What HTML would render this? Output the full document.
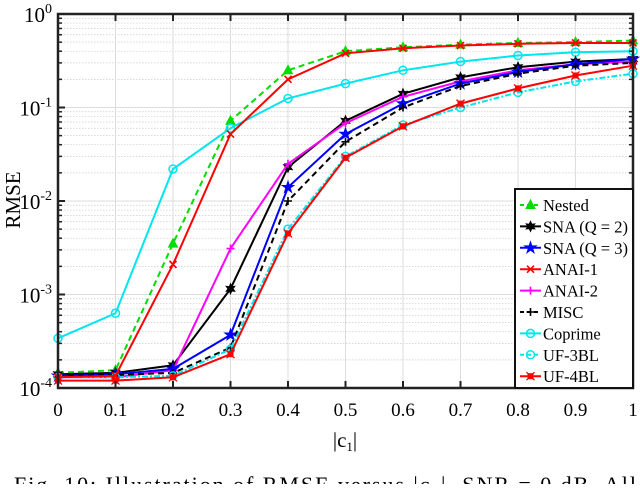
<!DOCTYPE html>
<html><head><meta charset="utf-8"><style>
body{margin:0;background:#fff;width:640px;height:484px;overflow:hidden}
svg{font-family:"Liberation Serif",serif}
</style></head><body>
<svg id="c" width="640" height="484"></svg>
<script>
const xs=[0,0.1,0.2,0.3,0.4,0.5,0.6,0.7,0.8,0.9,1];
const nested=[1.45e-4,1.55e-4,3.5e-3,0.072,0.25,0.40,0.44,0.47,0.49,0.50,0.52];
const sna2=[1.4e-4,1.45e-4,1.75e-4,1.15e-3,0.023,0.072,0.14,0.21,0.27,0.31,0.33];
const sna3=[1.35e-4,1.4e-4,1.6e-4,3.7e-4,0.014,0.052,0.11,0.18,0.24,0.29,0.33];
const anai1=[1.3e-4,1.35e-4,2.1e-3,0.052,0.20,0.38,0.43,0.46,0.48,0.49,0.49];
const anai2=[1.3e-4,1.3e-4,1.55e-4,3.1e-3,0.025,0.068,0.13,0.19,0.25,0.29,0.31];
const misc=[1.35e-4,1.38e-4,1.45e-4,2.7e-4,0.010,0.043,0.10,0.17,0.23,0.28,0.30];
const coprime=[3.4e-4,6.3e-4,0.022,0.060,0.125,0.18,0.25,0.31,0.36,0.39,0.40];
const uf3=[1.3e-4,1.3e-4,1.35e-4,2.6e-4,5.0e-3,0.030,0.065,0.10,0.145,0.19,0.23];
const uf4=[1.2e-4,1.2e-4,1.3e-4,2.3e-4,4.5e-3,0.029,0.063,0.11,0.16,0.22,0.28];
const xTicks=["0","0.1","0.2","0.3","0.4","0.5","0.6","0.7","0.8","0.9","1"];
const yExps=[0,-1,-2,-3,-4];
const L=58,R=633,T=14,B=388;
const X=v=>L+v*(R-L);
const Y=v=>T+(-Math.log10(v))/4*(B-T);
const svg=document.getElementById('c');
const NS='http://www.w3.org/2000/svg';
function mk(t,a,p){const e=document.createElementNS(NS,t);for(const k in a)e.setAttribute(k,a[k]);(p||svg).appendChild(e);return e;}
for(let d=0;d<4;d++){for(let m=2;m<10;m++){const y=Y(Math.pow(10,-4+d)*m);const g=mk('line',{x1:L,x2:R,y1:y,y2:y,stroke:'#ccc','stroke-width':0.7,'stroke-dasharray':'1.5,1.5'});}}
yExps.forEach(e=>{const y=Y(Math.pow(10,e));const g=mk('line',{x1:L,x2:R,y1:y,y2:y,stroke:'#ddd','stroke-width':1});});
xs.forEach(v=>{const g=mk('line',{x1:X(v),x2:X(v),y1:T,y2:B,stroke:'#ddd','stroke-width':1});});
function marker(t,x,y,c,g){
 if(t==='tri')mk('path',{d:`M${x},${y-5}L${x+4.5},${y+3.5}L${x-4.5},${y+3.5}Z`,fill:c,stroke:c},g);
 else if(t==='circ')mk('circle',{cx:x,cy:y,r:4,fill:'none',stroke:c,'stroke-width':1.5},g);
 else if(t==='x')mk('path',{d:`M${x-3.5},${y-3.5}L${x+3.5},${y+3.5}M${x+3.5},${y-3.5}L${x-3.5},${y+3.5}`,stroke:c,'stroke-width':1.6},g);
 else if(t==='plus')mk('path',{d:`M${x-4},${y}H${x+4}M${x},${y-4}V${y+4}`,stroke:c,'stroke-width':1.6},g);
 else if(t==='star'){let d='';for(let i=0;i<10;i++){const r=i%2?2.3:6,a=-Math.PI/2+i*Math.PI/5;d+=(i?'L':'M')+(x+r*Math.cos(a)).toFixed(1)+','+(y+r*Math.sin(a)).toFixed(1);}mk('path',{d:d+'Z',fill:c,stroke:c},g);}
 else if(t==='hex'){let d='';for(let i=0;i<12;i++){const r=i%2?2.5:5,a=-Math.PI/2+i*Math.PI/6;d+=(i?'L':'M')+(x+r*Math.cos(a)).toFixed(1)+','+(y+r*Math.sin(a)).toFixed(1);}mk('path',{d:d+'Z',fill:c,stroke:c},g);}
 else if(t==='sq'){mk('rect',{x:x-3,y:y-3,width:6,height:6,fill:c},g);mk('path',{d:`M${x-4},${y-4}L${x+4},${y+4}M${x+4},${y-4}L${x-4},${y+4}`,stroke:c,'stroke-width':1.3},g);}
}
const series=[
 ['nested',nested,'#00dd00','6,4','tri','Nested'],
 ['coprime',coprime,'#00e5ee',null,'circ','Coprime'],
 ['sna-q2',sna2,'#000',null,'hex','SNA (Q = 2)'],
 ['anai-2',anai2,'#ff00ff',null,'plus','ANAI-2'],
 ['sna-q3',sna3,'#0000ff',null,'star','SNA (Q = 3)'],
 ['misc',misc,'#000','6,4','plus','MISC'],
 ['uf-3bl',uf3,'#00e5ee','6,2,2,2','circ','UF-3BL'],
 ['anai-1',anai1,'#ff0000',null,'x','ANAI-1'],
 ['uf-4bl',uf4,'#ff0000',null,'sq','UF-4BL'],
];
series.forEach(s=>{
 const g=mk('g',{});
 const pts=xs.map((v,i)=>X(v).toFixed(1)+','+Y(s[1][i]).toFixed(1)).join(' ');
 const a={points:pts,fill:'none',stroke:s[2],'stroke-width':2};if(s[3])a['stroke-dasharray']=s[3];
 mk('polyline',a,g);
 xs.forEach((v,i)=>marker(s[4],X(v),Y(s[1][i]),s[2],g));
});
const bx=mk('rect',{x:L,y:T,width:R-L,height:B-T,fill:'none',stroke:'#222','stroke-width':2.5});

xs.forEach((v,i)=>{
 mk('line',{x1:X(v),x2:X(v),y1:B,y2:B-7,stroke:'#222','stroke-width':2});
 mk('line',{x1:X(v),x2:X(v),y1:T,y2:T+7,stroke:'#222','stroke-width':2});
 const t=mk('text',{x:X(v),y:B+28,'text-anchor':'middle','font-size':19});t.textContent=xTicks[i];
 
});
for(let d=0;d<4;d++)for(let m=2;m<10;m++){const y=Y(Math.pow(10,-4+d)*m);mk('line',{x1:L,x2:L+4,y1:y,y2:y,stroke:'#222','stroke-width':1.5});mk('line',{x1:R,x2:R-4,y1:y,y2:y,stroke:'#222','stroke-width':1.5});}
yExps.forEach(e=>{const y=Y(Math.pow(10,e));mk('line',{x1:L,x2:L+7,y1:y,y2:y,stroke:'#222','stroke-width':2});
 const t=mk('text',{x:52,y:y+8,'text-anchor':'end','font-size':21});t.innerHTML='10<tspan dy="-9" font-size="14">'+e+'</tspan>';
 });
let t=mk('text',{x:20,y:200,'text-anchor':'middle','font-size':21,transform:'rotate(-90 20 200)'});t.textContent='RMSE';

t=mk('text',{x:345,y:447,'text-anchor':'middle','font-size':21});t.innerHTML='|c<tspan dy="4" font-size="13">1</tspan><tspan dy="-4">|</tspan>';

t=mk('text',{x:14,y:492,'font-size':22,textLength:622,lengthAdjust:'spacing'});t.textContent='Fig. 10: Illustration of RMSE versus |c\u2081|, SNR = 0 dB. All';

const lg=mk('g',{});
mk('rect',{x:515,y:189,width:118,height:199,fill:'#fff',stroke:'#111','stroke-width':2},lg);
const order=[0,2,4,7,3,5,1,6,8];
order.forEach((k,i)=>{const s=series[k];const y=205+i*21.4;
 const e=mk('g',{},lg);
 const a={x1:520,x2:541,y1:y,y2:y,stroke:s[2],'stroke-width':2};if(s[3])a['stroke-dasharray']='4,3';mk('line',a,e);
 marker(s[4],530.5,y,s[2],e);
 const tx=mk('text',{x:543,y:y+6,'font-size':16.5},e);tx.textContent=s[5];});
</script>
</body></html>
